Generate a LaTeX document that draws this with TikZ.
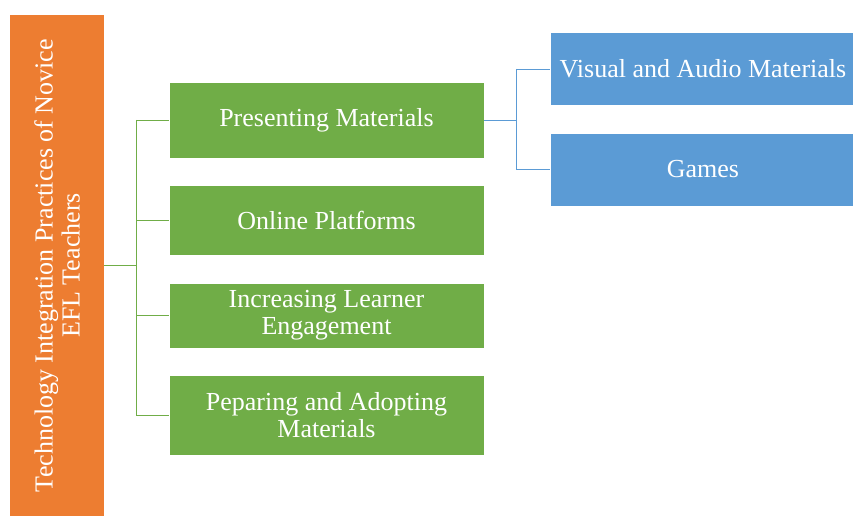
\documentclass[tikz,border=0pt]{standalone}
\usepackage{fontspec}
\setmainfont{Liberation Serif}
\definecolor{orangeroot}{HTML}{ED7D31}
\definecolor{greenbox}{HTML}{70AD47}
\definecolor{bluebox}{HTML}{5B9BD5}
\begin{document}
\begin{tikzpicture}[x=1bp,y=-1bp]
  \tikzset{rootbox/.style = {fill=orangeroot, inner sep=0pt, minimum width=94bp, minimum height=501bp}}
  \tikzset{gbox/.style = {fill=greenbox, draw=white, line width=0.6pt, text=white, align=center, inner sep=0pt, minimum width=315bp}}
  \tikzset{bbox/.style = {fill=bluebox, draw=white, line width=0.6pt, text=white, align=center, inner sep=0pt, minimum width=305bp, minimum height=73bp}}
  \tikzset{gline/.style = {draw=greenbox, line width=0.9pt}}
  \tikzset{bline/.style = {draw=bluebox, line width=0.9pt}}

  \def\gx{326.5}
  \def\bx{703}

  \useasboundingbox (0,0) rectangle (853,516);
  \fontsize{26bp}{27bp}\selectfont

  % Root
  \node [rootbox] (root) at (57,265.5) {};
  \node [rotate=90, text=white, align=center, inner sep=0pt] (roottext) at (root.center)
    {Technology Integration Practices of Novice\\EFL Teachers};

  % Practices
  \node [gbox,minimum height=76bp] (pm)  at (\gx,120)   {Presenting Materials};
  \node [gbox,minimum height=70bp] (op)  at (\gx,220)   {Online Platforms};
  \node [gbox,minimum height=65bp] (ile) at (\gx,315.5) {Increasing Learner\\Engagement};
  \node [gbox,minimum height=80bp] (pam) at (\gx,415)   {Peparing and Adopting\\Materials};

  % Sub-practices
  \node [bbox] (vam) at (\bx,69)  {Visual and Audio Materials};
  \node [bbox] (gm)  at (\bx,169.5) {Games};

  % Connectors
  \coordinate (gtrunk) at (136,0);
  \coordinate (btrunk) at (516,0);
  \draw[gline] (root.east) -- (root.east -| gtrunk);
  \draw[gline] (gtrunk |- pm.west) -- (gtrunk |- pam.west);
  \foreach \b in {pm,op,ile,pam}
    \draw[gline] (gtrunk |- \b.west) -- (\b.west);

  \draw[bline] (pm.east) -- (pm.east -| btrunk);
  \draw[bline] (btrunk |- vam.west) -- (btrunk |- gm.west);
  \foreach \b in {vam,gm}
    \draw[bline] (btrunk |- \b.west) -- (\b.west);
\end{tikzpicture}
\end{document}
